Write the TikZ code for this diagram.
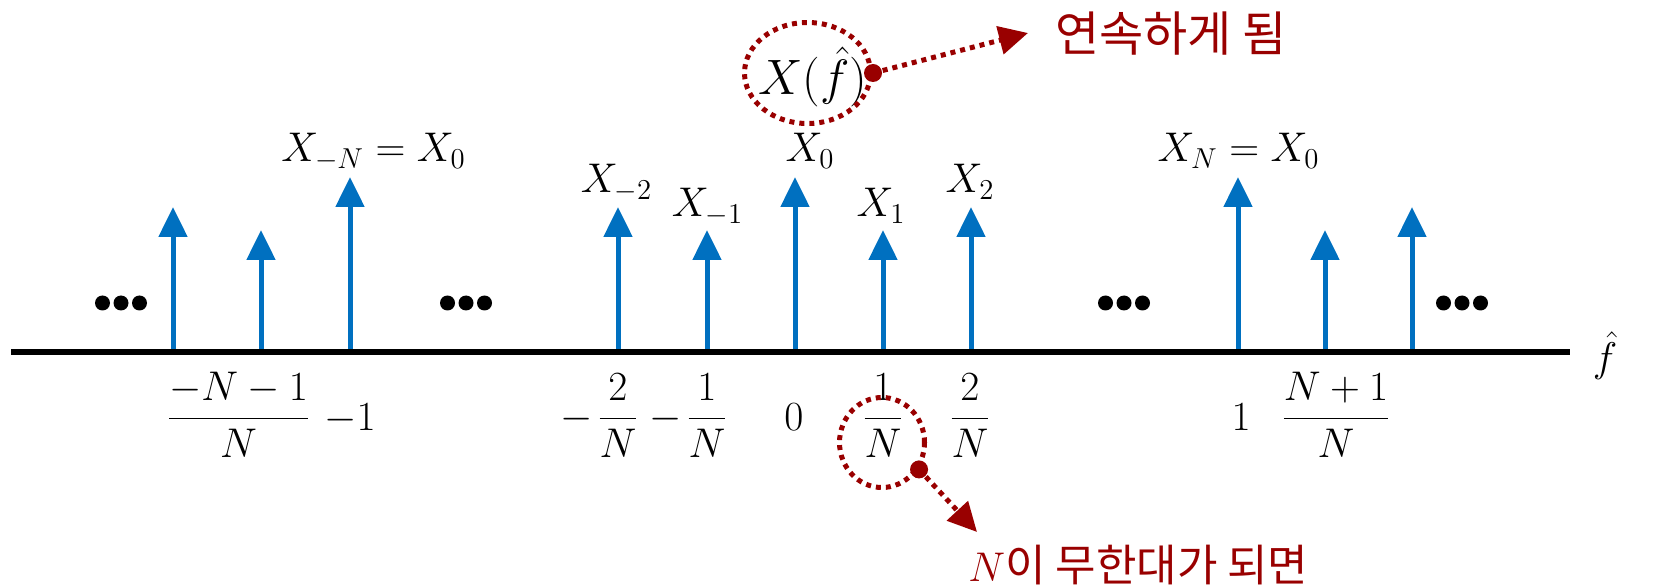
\documentclass[tikz,border=0pt]{standalone}
\usepackage{amsmath}
\usepackage{fontspec}
\newfontfamily\kr{Noto Sans CJK KR}
\usetikzlibrary{arrows.meta,shapes.geometric}
\definecolor{stemblue}{RGB}{0,112,192}
\definecolor{darkred}{RGB}{153,0,0}
\begin{document}
\begin{tikzpicture}[x=0.5pt,y=-0.5pt,
  stem/.style={stemblue, line width=2.5pt, -{Triangle[length=15pt,width=14pt]}},
  lbl/.style={font=\fontsize{22.5}{27}\selectfont, inner sep=0pt, anchor=base},
  dotsty/.style={fill=black, circle, inner sep=0pt, minimum size=7.5pt},
  hl/.style={draw=darkred, line width=2.5pt, dash pattern=on 2.5pt off 2.5pt, ellipse, inner sep=0pt},
  callout/.style={darkred, line width=2.5pt, dash pattern=on 2.5pt off 2.5pt, -{Triangle[length=14.5pt,width=14pt]}},
  pin/.style={fill=darkred, circle, inner sep=0pt, minimum size=9pt},
  kor/.style={darkred, inner sep=0pt, anchor=base west}
]
\useasboundingbox (0,0) rectangle (1671,588);

% stems
\foreach \s/\x/\t in {a/173/207, b/261/230, c/350/177, d/618/207, e/707/230, f/795/177, g/883/230, h/971/207, i/1238/177, j/1325/230, k/1412/207} {
  \coordinate (base\s) at (\x,352);
  \coordinate (tip\s) at (\x,\t);
  \draw[stem] (base\s) -- (tip\s);
}

% axis
\coordinate (axL) at (11,352);
\coordinate (axR) at (1570,352);
\draw[line width=3pt] (axL) -- (axR);
\node[lbl, anchor=center] (fhat) at (1605,356) {$\hat{f}$};

% ellipsis dots
\foreach \m [count=\i] in {121,466,1124,1462} {
  \foreach \d [count=\j] in {-18.5,0,18.5} {
    \node[dotsty] (dot\i-\j) at (\m+\d,303) {};
  }
}

% top labels
\node[lbl] (lXmN) at (373.5,162) {$X_{-N} = X_0$};
\node[lbl] (lXm2) at (616.5,193) {$X_{-2}$};
\node[lbl] (lXm1) at (707.5,217) {$X_{-1}$};
\node[lbl] (lX0) at (810,162) {$X_0$};
\node[lbl] (lX1) at (881,217) {$X_1$};
\node[lbl] (lX2) at (970,193) {$X_2$};
\node[lbl] (lXN) at (1238.5,162) {$X_N = X_0$};

% bottom labels
\node[lbl] (tA) at (238.5,429) {$\dfrac{-N-1}{N}$};
\node[lbl] (tB) at (350,430) {$-1$};
\node[lbl] (tC) at (618,429) {$\dfrac{2}{N}$};
\node[lbl, anchor=base east] (tCm) at (593,429) {$-$};
\node[lbl] (tD) at (707,429) {$\dfrac{1}{N}$};
\node[lbl, anchor=base east] (tDm) at (682,429) {$-$};
\node[lbl] (tE) at (794,430) {$0$};
\node[lbl] (tF) at (883,429) {$\dfrac{1}{N}$};
\node[lbl] (tG) at (970,429) {$\dfrac{2}{N}$};
\node[lbl] (tH) at (1241,430) {$1$};
\node[lbl] (tI) at (1336,429) {$\dfrac{N+1}{N}$};

% callout 1
\node[lbl, font=\fontsize{24}{28}\selectfont] (Xf) at (813,95) {$X(\hat{f})$};
\node[hl, minimum width=63pt, minimum height=50.5pt] (ring1) at (807.5,73) {};
\coordinate (end1) at (1028,33);
\draw[callout] (ring1.east) -- (end1);
\node[pin] (pin1) at (ring1.east) {};
\node[kor, font=\kr\fontsize{24}{28}\selectfont] (txt1) at (1055,52) {연속하게 됨};

% callout 2
\node[hl, minimum width=42.5pt, minimum height=45pt] (ring2) at (882,442.5) {};
\coordinate (end2) at (977,532);
\draw[callout] (ring2.-36) -- (end2);
\node[pin] (pin2) at (ring2.-36) {};
\node[kor, font=\kr\fontsize{22}{26}\selectfont] (txt2) at (968,581) {$N$이 무한대가 되면};
\end{tikzpicture}
\end{document}
